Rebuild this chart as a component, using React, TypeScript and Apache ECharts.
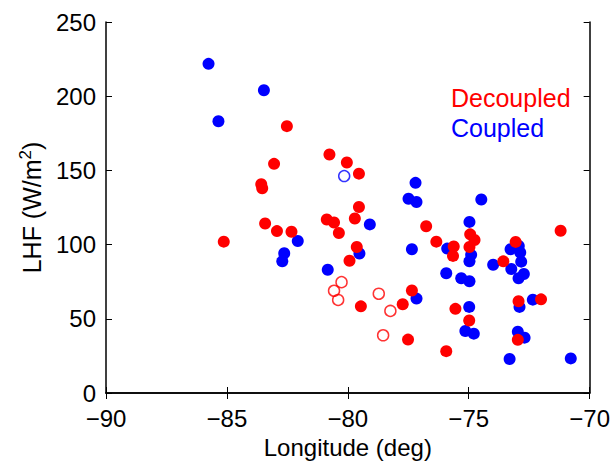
import React, { useEffect, useRef } from "react";
import * as echarts from "echarts";

const xTicks = [-90, -85, -80, -75, -70];
const yTicks = [0, 50, 100, 150, 200, 250];

const decoupledFilled: [number, number][] = [
  [-85.13, 102], [-83.58, 140.7], [-83.54, 138], [-83.42, 114.2], [-83.05, 154.4],
  [-82.93, 109.1], [-82.52, 179.8], [-82.33, 108.7], [-80.87, 116.9], [-80.76, 160.7],
  [-80.57, 114.9], [-80.37, 107.8], [-80.04, 155.3], [-79.93, 89.1], [-79.71, 117.6],
  [-79.63, 98.4], [-79.54, 147.8], [-79.54, 125.3], [-79.46, 58.4], [-77.73, 59.8],
  [-77.51, 36], [-77.35, 69.1], [-76.76, 112.4], [-76.34, 102], [-75.93, 28.2],
  [-75.62, 98.7], [-75.65, 92.4], [-75.55, 56.7], [-74.94, 106.9], [-74.76, 103.1],
  [-74.97, 98.4], [-74.98, 48.9], [-73.57, 88.7], [-73.06, 101.8], [-72.94, 61.8],
  [-72.97, 35.8], [-72.01, 63.1], [-71.2, 109.3],
];

const decoupledOpen: [number, number][] = [
  [-80.26, 74.7], [-80.57, 68.9], [-80.4, 62.7], [-78.72, 66.9], [-78.24, 55.3], [-78.54, 38.9],
];

const coupledFilled: [number, number][] = [
  [-85.76, 221.8], [-83.47, 204], [-85.35, 183.1], [-82.07, 102.4], [-82.63, 94.2],
  [-82.71, 88.7], [-80.83, 83.1], [-79.09, 113.6], [-79.52, 94], [-77.2, 141.6],
  [-77.49, 130.9], [-77.16, 128.7], [-74.48, 130.4], [-77.35, 96.9], [-77.16, 63.6],
  [-74.97, 115.3], [-75.89, 97.3], [-74.9, 93.1], [-74.97, 88.7], [-73.99, 86.4],
  [-73.27, 96.9], [-72.93, 99.1], [-72.87, 94.7], [-72.83, 88.5], [-73.24, 83.6],
  [-72.72, 80.2], [-72.94, 77.3], [-75.93, 80.7], [-75.31, 77.3], [-74.97, 75.3],
  [-74.98, 58], [-75.14, 41.8], [-74.79, 40], [-72.35, 62.9], [-72.9, 58],
  [-72.97, 41.3], [-72.69, 37.3], [-73.31, 22.9], [-70.78, 23.3],
];

const coupledOpen: [number, number][] = [[-80.15, 146.2]];

const legendLabels = ["Decoupled", "Coupled"];

const RED = "#ff0000";
const BLUE = "#0000ff";
const FONT = "'Liberation Sans', Arial, Helvetica, sans-serif";

export default function App() {
  const ref = useRef<HTMLDivElement>(null);
  useEffect(() => {
    document.body.style.margin = "0";
    const chart = echarts.init(ref.current!, undefined, { renderer: "svg" });
    const fmt = (v: number) => String(v).replace("-", "\u2212");
    const axisLine = { show: true, lineStyle: { color: "#000", width: 1.5 } };
    const tick = { show: true, inside: true, length: 6, lineStyle: { color: "#000", width: 1 } };
    chart.setOption({
      animation: false,
      backgroundColor: "#fff",
      grid: { left: 106, right: 15, top: 22, bottom: 67, containLabel: false },
      xAxis: [
        {
          type: "value", min: xTicks[0], max: xTicks[xTicks.length - 1], interval: 5,
          axisLine, axisTick: tick, splitLine: { show: false },
          axisLabel: { formatter: fmt, color: "#000", fontSize: 24, fontFamily: FONT, margin: 13 },
          name: "Longitude (deg)", nameLocation: "middle", nameGap: 42,
          nameTextStyle: { color: "#000", fontSize: 24, fontFamily: FONT },
        },
        {
          type: "value", position: "top", min: xTicks[0], max: xTicks[xTicks.length - 1], interval: 5,
          axisLine, axisTick: tick, axisLabel: { show: false }, splitLine: { show: false },
        },
      ],
      yAxis: [
        {
          type: "value", min: yTicks[0], max: yTicks[yTicks.length - 1], interval: 50,
          axisLine, axisTick: tick, splitLine: { show: false },
          axisLabel: { color: "#000", fontSize: 24, fontFamily: FONT, margin: 10 },
          name: "LHF (W/m{sup|2})", nameLocation: "middle", nameGap: 60,
          nameTextStyle: {
            color: "#000", fontSize: 25, fontFamily: FONT,
            rich: { sup: { fontSize: 17, fontFamily: FONT, color: "#000", verticalAlign: "top", padding: [0, 0, 12, 0] } },
          },
        },
        {
          type: "value", position: "right", min: yTicks[0], max: yTicks[yTicks.length - 1], interval: 50,
          axisLine, axisTick: tick, axisLabel: { show: false }, splitLine: { show: false },
        },
      ],
      graphic: [
        { type: "text", left: 451, top: 85, style: { text: legendLabels[0], fill: RED, fontSize: 25, fontFamily: FONT } },
        { type: "text", left: 451, top: 115, style: { text: legendLabels[1], fill: BLUE, fontSize: 25, fontFamily: FONT } },
      ],
      series: [
        { type: "scatter", data: coupledFilled, symbolSize: 12, itemStyle: { color: BLUE, opacity: 1 } },
        { type: "scatter", data: coupledOpen, symbolSize: 11, itemStyle: { color: "transparent", borderColor: BLUE, borderWidth: 1.5 } },
        { type: "scatter", data: decoupledFilled, symbolSize: 12, itemStyle: { color: RED, opacity: 1 } },
        { type: "scatter", data: decoupledOpen, symbolSize: 11, itemStyle: { color: "transparent", borderColor: RED, borderWidth: 1.5 } },
      ],
    });
    return () => chart.dispose();
  }, []);
  return <div ref={ref} style={{ width: 613, height: 464 }} />;
}
